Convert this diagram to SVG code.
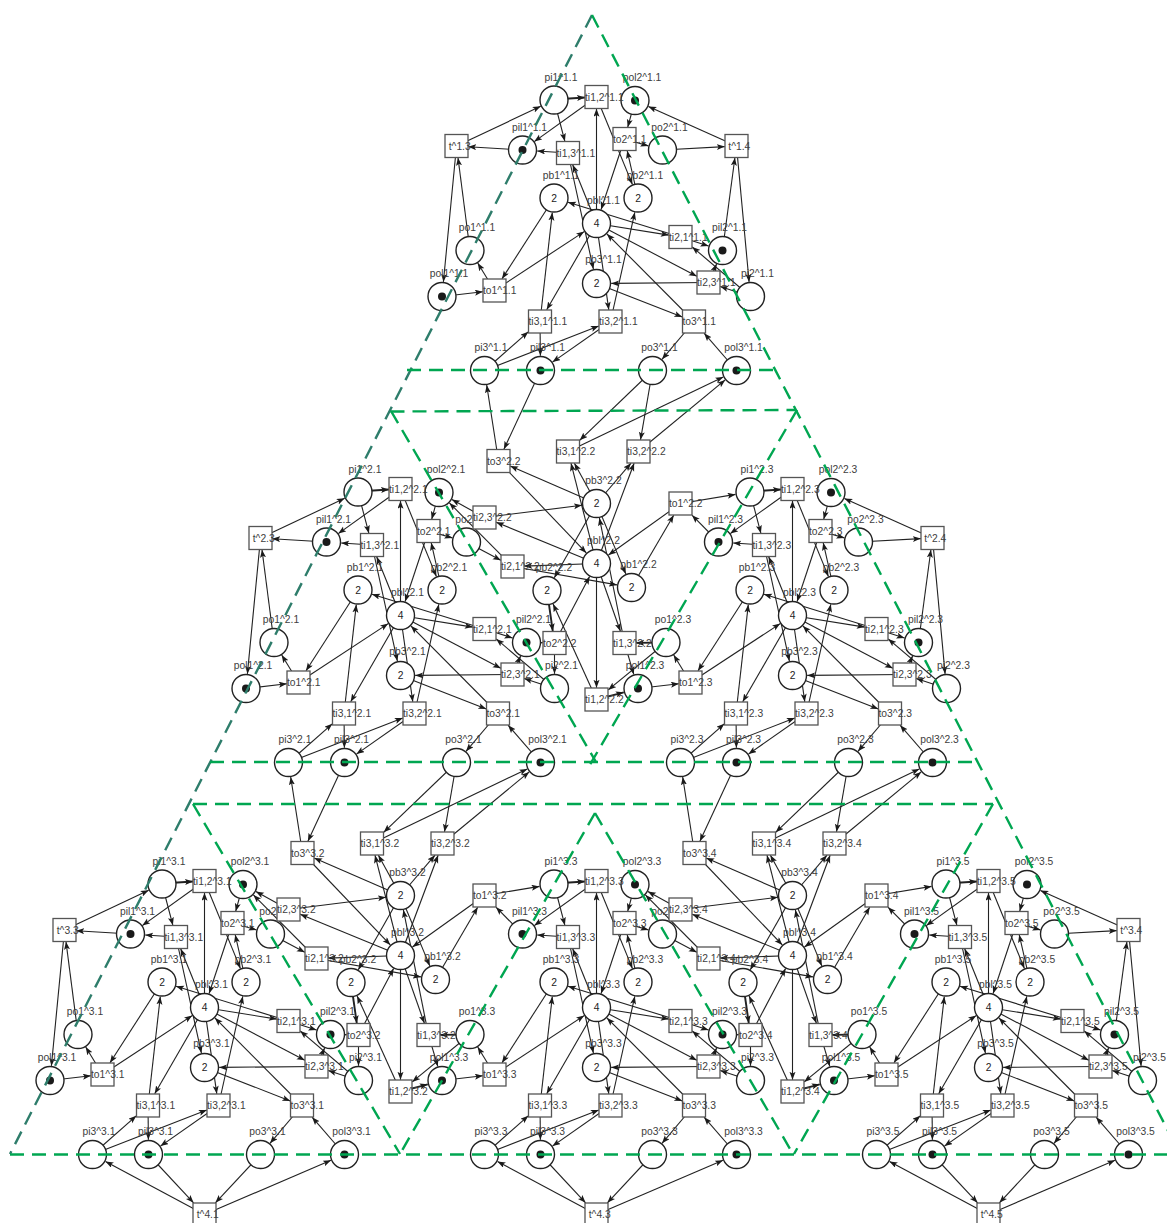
<svg xmlns="http://www.w3.org/2000/svg" width="1167" height="1223" viewBox="0 0 1167 1223">
<style>
text{font-family:"Liberation Sans",Arial,sans-serif;font-size:10.3px;fill:#404040}
.m{text-anchor:middle}
.n{text-anchor:middle;fill:#222}
.p{fill:#fff;stroke:#222;stroke-width:1.4}
.s{fill:#fff;stroke:#555;stroke-width:1.3}
.t{fill:#1a1a1a;stroke:none}
.c{fill:none;stroke:#222;stroke-width:1.1;marker-end:url(#a)}
.k{stroke-width:1.9}
.d{fill:none;stroke:#00a651;stroke-width:2.4;stroke-dasharray:14 8}
.g{stroke:#2e7d6b}
</style>
<defs>
<marker id="a" markerUnits="userSpaceOnUse" markerWidth="9" markerHeight="7" refX="8" refY="3" orient="auto"><path d="M0 0L8 3L0 6L1.8 3z" fill="#1a1a1a"/></marker>
<g id="core" class="c">
<path class="k" d="M554 99.5L585 97.5"/><path d="M596.5 97L534.3 141.6"/><path d="M554 100L564.9 141.3"/><path d="M568 153L537.2 151"/>
<path d="M494.5 290.5L477.7 263"/><path d="M442 296.5L482.8 291.8"/><path d="M554 198L502 278.8"/><path d="M494.5 290.5L584.2 231.6"/>
<path d="M540 321.5L552.3 212.6"/><path d="M596.5 223.5L546.7 309.8"/><path d="M484.5 370.5L528.3 331.8"/><path d="M540 321.5L540.4 355.8"/>
<path d="M484.5 370.5L598.8 326"/><path d="M610.5 321.5L552.5 362.1"/><path d="M596.5 223.5L608.8 309.8"/><path d="M610.5 321.5L634.8 212.3"/>
<path d="M568 153L593.4 269.1"/><path d="M596.5 223.5L572.7 164.7"/><path d="M596.5 223.5L596.5 108.7"/><path d="M596.5 97L632.4 184.4"/>
<path d="M638 198L627.2 150.7"/><path d="M624.5 139L601.1 209.5"/><path d="M635 100.5L627.7 127.3"/><path d="M624.5 139L648.4 145.9"/>
<path d="M680.5 237L708.5 246"/><path d="M750.5 296.5L692.2 246.9"/><path d="M708.5 282.5L716.6 264"/><path d="M750.5 296.5L720.2 286.4"/>
<path d="M708.5 282.5L611.2 283.4"/><path d="M596.5 223.5L668.8 235.1"/><path d="M680.5 237L568 202.3"/><path d="M596.5 223.5L696.8 276.3"/>
<path d="M596.5 283.5L682.3 316.9"/><path d="M694 321.5L606.9 233.9"/><path d="M694 321.5L662 359.3"/><path d="M736.5 370.5L704.1 333.2"/>
</g>
<g id="tl" class="c"><path d="M522.5 150L468.2 146.7"/><path d="M456.5 146L540.7 106.3"/><path d="M456.5 146L443.4 281.9"/><path d="M470 250.5L458 157.7"/></g>
<g id="tr" class="c"><path d="M662.5 150L724.8 146.6"/><path d="M736.5 146L648.4 106.5"/><path d="M722.5 250.5L734.9 157.7"/><path d="M736.5 146L749.1 281.9"/></g>
<g id="tb" class="c"><path d="M540.5 370.5L585.6 418.8"/><path d="M652.5 370.5L607.4 418.8"/><path d="M596.5 430.5L497.5 377.4"/><path d="M596.5 430.5L723 376.3"/></g>
<g id="br" class="c">
<path d="M498.5 461L486.7 385"/><path d="M540.5 370.5L503.9 449.3"/><path d="M652.5 370.5L579.7 440.3"/><path d="M652.5 370.5L640.5 439.8"/>
<path d="M568 451.5L723.3 376.9"/><path d="M638.5 451.5L725.2 379.9"/><path d="M596.5 503.5L510.2 466.1"/><path d="M596.5 503.5L574.4 463.2"/>
<path d="M596.5 563.5L571 463.2"/><path d="M596.5 563.5L634.1 463.2"/><path d="M596.5 503.5L631 463.2"/><path d="M498.5 461L586.3 552.9"/>
<path d="M484.5 517.5L581.9 505.3"/><path d="M596.5 563.5L496.2 522.3"/><path d="M596.5 503.5L554.3 577.7"/><path d="M596.5 503.5L625.8 573.9"/>
<path d="M624.5 643L599.4 517.9"/><path d="M596.5 563.5L620.4 631.3"/><path d="M631.5 587.5L673.7 515.2"/><path d="M680.5 503.5L608.5 555"/>
<path d="M680.5 503.5L735.5 494.4"/><path d="M718.5 542L692 515.2"/><path d="M466.5 542L500.8 560.3"/><path d="M512.5 566.5L449.4 502.9"/>
<path d="M484.5 517.5L451.9 499.6"/><path d="M596.5 563.5L524.2 566.1"/><path d="M512.5 566.5L617 584.9"/><path d="M596.5 563.5L596.5 687.8"/>
<path d="M554.5 643L589.6 576.5"/><path class="k" d="M547 590.5L552.8 631.3"/><path d="M596.5 699.5L553.1 603.9"/><path d="M526.5 642.5L542.8 642.8"/>
<path d="M554.5 643L554.5 673.8"/><path class="k" d="M666 642.5L636.2 642.9"/><path d="M666 642.5L608.2 689.9"/><path d="M624.5 643L633.8 674.4"/>
<path class="k" d="M596.5 699.5L623.8 692.3"/>
</g>
</defs>
<g id="connectors">
<use href="#core"/><use href="#core" transform="translate(-196 392)"/><use href="#core" transform="translate(196 392)"/><use href="#core" transform="translate(-392 784)"/><use href="#core" transform="translate(0 784)"/><use href="#core" transform="translate(392 784)"/>
<use href="#tl"/><use href="#tl" transform="translate(-196 392)"/><use href="#tl" transform="translate(-392 784)"/>
<use href="#tr"/><use href="#tr" transform="translate(196 392)"/><use href="#tr" transform="translate(392 784)"/>
<use href="#tb" transform="translate(-392 784)"/><use href="#tb" transform="translate(0 784)"/><use href="#tb" transform="translate(392 784)"/>
<use href="#br"/><use href="#br" transform="translate(-196 392)"/><use href="#br" transform="translate(196 392)"/>
</g>
<g id="nodes">
<g id="module-1.1">
<g id="pi1_1.1"><circle class="p" cx="554" cy="100" r="14"/><text class="m" x="561" y="80.5">pi1^1.1</text></g>
<g id="pol2_1.1"><circle class="p" cx="635" cy="100.5" r="14"/><circle class="t" cx="635" cy="100.5" r="4"/><text class="m" x="642" y="81">pol2^1.1</text></g>
<g id="pil1_1.1"><circle class="p" cx="522.5" cy="150" r="14"/><circle class="t" cx="522.5" cy="150" r="4"/><text class="m" x="529.5" y="130.5">pil1^1.1</text></g>
<g id="po2_1.1"><circle class="p" cx="662.5" cy="150" r="14"/><text class="m" x="669.5" y="130.5">po2^1.1</text></g>
<g id="pb1_1.1"><circle class="p" cx="554" cy="198" r="14"/><text class="n" x="554" y="201.7">2</text><text class="m" x="561" y="178.5">pb1^1.1</text></g>
<g id="pb2_1.1"><circle class="p" cx="638" cy="198" r="14"/><text class="n" x="638" y="201.7">2</text><text class="m" x="645" y="178.5">pb2^1.1</text></g>
<g id="pbl_1.1"><circle class="p" cx="596.5" cy="223.5" r="14"/><text class="n" x="596.5" y="227.2">4</text><text class="m" x="603.5" y="204">pbl^1.1</text></g>
<g id="pil2_1.1"><circle class="p" cx="722.5" cy="250.5" r="14"/><circle class="t" cx="722.5" cy="250.5" r="4"/><text class="m" x="729.5" y="231">pil2^1.1</text></g>
<g id="pi2_1.1"><circle class="p" cx="750.5" cy="296.5" r="14"/><text class="m" x="757.5" y="277">pi2^1.1</text></g>
<g id="po1_1.1"><circle class="p" cx="470" cy="250.5" r="14"/><text class="m" x="477" y="231">po1^1.1</text></g>
<g id="pol1_1.1"><circle class="p" cx="442" cy="296.5" r="14"/><circle class="t" cx="442" cy="296.5" r="4"/><text class="m" x="449" y="277">pol1^1.1</text></g>
<g id="pb3_1.1"><circle class="p" cx="596.5" cy="283.5" r="14"/><text class="n" x="596.5" y="287.2">2</text><text class="m" x="603.5" y="263">pb3^1.1</text></g>
<g id="pi3_1.1"><circle class="p" cx="484.5" cy="370.5" r="14"/><text class="m" x="491" y="351">pi3^1.1</text></g>
<g id="pil3_1.1"><circle class="p" cx="540.5" cy="370.5" r="14"/><circle class="t" cx="540.5" cy="370.5" r="4"/><text class="m" x="547.5" y="351">pil3^1.1</text></g>
<g id="po3_1.1"><circle class="p" cx="652.5" cy="370.5" r="14"/><text class="m" x="659.5" y="351">po3^1.1</text></g>
<g id="pol3_1.1"><circle class="p" cx="736.5" cy="370.5" r="14"/><circle class="t" cx="736.5" cy="370.5" r="4"/><text class="m" x="743.5" y="351">pol3^1.1</text></g>
<g id="ti12_1.1"><rect class="s" x="585" y="85.5" width="23" height="23"/><text x="585" y="100.7">ti1,2^1.1</text></g>
<g id="ti13_1.1"><rect class="s" x="556.5" y="141.5" width="23" height="23"/><text x="556.5" y="156.7">ti1,3^1.1</text></g>
<g id="to2_1.1"><rect class="s" x="613" y="127.5" width="23" height="23"/><text x="613" y="142.7">to2^1.1</text></g>
<g id="to1_1.1"><rect class="s" x="483" y="279" width="23" height="23"/><text x="483" y="294.2">to1^1.1</text></g>
<g id="ti21_1.1"><rect class="s" x="669" y="225.5" width="23" height="23"/><text x="669" y="240.7">ti2,1^1.1</text></g>
<g id="ti23_1.1"><rect class="s" x="697" y="271" width="23" height="23"/><text x="697" y="286.2">ti2,3^1.1</text></g>
<g id="ti31_1.1"><rect class="s" x="528.5" y="310" width="23" height="23"/><text x="528.5" y="325.2">ti3,1^1.1</text></g>
<g id="ti32_1.1"><rect class="s" x="599" y="310" width="23" height="23"/><text x="599" y="325.2">ti3,2^1.1</text></g>
<g id="to3_1.1"><rect class="s" x="682.5" y="310" width="23" height="23"/><text x="682.5" y="325.2">to3^1.1</text></g>
</g>
<g id="module-2.1" transform="translate(-196 392)">
<g id="pi1_2.1"><circle class="p" cx="554" cy="100" r="14"/><text class="m" x="561" y="80.5">pi1^2.1</text></g>
<g id="pol2_2.1"><circle class="p" cx="635" cy="100.5" r="14"/><circle class="t" cx="635" cy="100.5" r="4"/><text class="m" x="642" y="81">pol2^2.1</text></g>
<g id="pil1_2.1"><circle class="p" cx="522.5" cy="150" r="14"/><circle class="t" cx="522.5" cy="150" r="4"/><text class="m" x="529.5" y="130.5">pil1^2.1</text></g>
<g id="po2_2.1"><circle class="p" cx="662.5" cy="150" r="14"/><text class="m" x="669.5" y="130.5">po2^2.1</text></g>
<g id="pb1_2.1"><circle class="p" cx="554" cy="198" r="14"/><text class="n" x="554" y="201.7">2</text><text class="m" x="561" y="178.5">pb1^2.1</text></g>
<g id="pb2_2.1"><circle class="p" cx="638" cy="198" r="14"/><text class="n" x="638" y="201.7">2</text><text class="m" x="645" y="178.5">pb2^2.1</text></g>
<g id="pbl_2.1"><circle class="p" cx="596.5" cy="223.5" r="14"/><text class="n" x="596.5" y="227.2">4</text><text class="m" x="603.5" y="204">pbl^2.1</text></g>
<g id="pil2_2.1"><circle class="p" cx="722.5" cy="250.5" r="14"/><circle class="t" cx="722.5" cy="250.5" r="4"/><text class="m" x="729.5" y="231">pil2^2.1</text></g>
<g id="pi2_2.1"><circle class="p" cx="750.5" cy="296.5" r="14"/><text class="m" x="757.5" y="277">pi2^2.1</text></g>
<g id="po1_2.1"><circle class="p" cx="470" cy="250.5" r="14"/><text class="m" x="477" y="231">po1^2.1</text></g>
<g id="pol1_2.1"><circle class="p" cx="442" cy="296.5" r="14"/><circle class="t" cx="442" cy="296.5" r="4"/><text class="m" x="449" y="277">pol1^2.1</text></g>
<g id="pb3_2.1"><circle class="p" cx="596.5" cy="283.5" r="14"/><text class="n" x="596.5" y="287.2">2</text><text class="m" x="603.5" y="263">pb3^2.1</text></g>
<g id="pi3_2.1"><circle class="p" cx="484.5" cy="370.5" r="14"/><text class="m" x="491" y="351">pi3^2.1</text></g>
<g id="pil3_2.1"><circle class="p" cx="540.5" cy="370.5" r="14"/><circle class="t" cx="540.5" cy="370.5" r="4"/><text class="m" x="547.5" y="351">pil3^2.1</text></g>
<g id="po3_2.1"><circle class="p" cx="652.5" cy="370.5" r="14"/><text class="m" x="659.5" y="351">po3^2.1</text></g>
<g id="pol3_2.1"><circle class="p" cx="736.5" cy="370.5" r="14"/><circle class="t" cx="736.5" cy="370.5" r="4"/><text class="m" x="743.5" y="351">pol3^2.1</text></g>
<g id="ti12_2.1"><rect class="s" x="585" y="85.5" width="23" height="23"/><text x="585" y="100.7">ti1,2^2.1</text></g>
<g id="ti13_2.1"><rect class="s" x="556.5" y="141.5" width="23" height="23"/><text x="556.5" y="156.7">ti1,3^2.1</text></g>
<g id="to2_2.1"><rect class="s" x="613" y="127.5" width="23" height="23"/><text x="613" y="142.7">to2^2.1</text></g>
<g id="to1_2.1"><rect class="s" x="483" y="279" width="23" height="23"/><text x="483" y="294.2">to1^2.1</text></g>
<g id="ti21_2.1"><rect class="s" x="669" y="225.5" width="23" height="23"/><text x="669" y="240.7">ti2,1^2.1</text></g>
<g id="ti23_2.1"><rect class="s" x="697" y="271" width="23" height="23"/><text x="697" y="286.2">ti2,3^2.1</text></g>
<g id="ti31_2.1"><rect class="s" x="528.5" y="310" width="23" height="23"/><text x="528.5" y="325.2">ti3,1^2.1</text></g>
<g id="ti32_2.1"><rect class="s" x="599" y="310" width="23" height="23"/><text x="599" y="325.2">ti3,2^2.1</text></g>
<g id="to3_2.1"><rect class="s" x="682.5" y="310" width="23" height="23"/><text x="682.5" y="325.2">to3^2.1</text></g>
</g>
<g id="module-2.3" transform="translate(196 392)">
<g id="pi1_2.3"><circle class="p" cx="554" cy="100" r="14"/><text class="m" x="561" y="80.5">pi1^2.3</text></g>
<g id="pol2_2.3"><circle class="p" cx="635" cy="100.5" r="14"/><circle class="t" cx="635" cy="100.5" r="4"/><text class="m" x="642" y="81">pol2^2.3</text></g>
<g id="pil1_2.3"><circle class="p" cx="522.5" cy="150" r="14"/><circle class="t" cx="522.5" cy="150" r="4"/><text class="m" x="529.5" y="130.5">pil1^2.3</text></g>
<g id="po2_2.3"><circle class="p" cx="662.5" cy="150" r="14"/><text class="m" x="669.5" y="130.5">po2^2.3</text></g>
<g id="pb1_2.3"><circle class="p" cx="554" cy="198" r="14"/><text class="n" x="554" y="201.7">2</text><text class="m" x="561" y="178.5">pb1^2.3</text></g>
<g id="pb2_2.3"><circle class="p" cx="638" cy="198" r="14"/><text class="n" x="638" y="201.7">2</text><text class="m" x="645" y="178.5">pb2^2.3</text></g>
<g id="pbl_2.3"><circle class="p" cx="596.5" cy="223.5" r="14"/><text class="n" x="596.5" y="227.2">4</text><text class="m" x="603.5" y="204">pbl^2.3</text></g>
<g id="pil2_2.3"><circle class="p" cx="722.5" cy="250.5" r="14"/><circle class="t" cx="722.5" cy="250.5" r="4"/><text class="m" x="729.5" y="231">pil2^2.3</text></g>
<g id="pi2_2.3"><circle class="p" cx="750.5" cy="296.5" r="14"/><text class="m" x="757.5" y="277">pi2^2.3</text></g>
<g id="po1_2.3"><circle class="p" cx="470" cy="250.5" r="14"/><text class="m" x="477" y="231">po1^2.3</text></g>
<g id="pol1_2.3"><circle class="p" cx="442" cy="296.5" r="14"/><circle class="t" cx="442" cy="296.5" r="4"/><text class="m" x="449" y="277">pol1^2.3</text></g>
<g id="pb3_2.3"><circle class="p" cx="596.5" cy="283.5" r="14"/><text class="n" x="596.5" y="287.2">2</text><text class="m" x="603.5" y="263">pb3^2.3</text></g>
<g id="pi3_2.3"><circle class="p" cx="484.5" cy="370.5" r="14"/><text class="m" x="491" y="351">pi3^2.3</text></g>
<g id="pil3_2.3"><circle class="p" cx="540.5" cy="370.5" r="14"/><circle class="t" cx="540.5" cy="370.5" r="4"/><text class="m" x="547.5" y="351">pil3^2.3</text></g>
<g id="po3_2.3"><circle class="p" cx="652.5" cy="370.5" r="14"/><text class="m" x="659.5" y="351">po3^2.3</text></g>
<g id="pol3_2.3"><circle class="p" cx="736.5" cy="370.5" r="14"/><circle class="t" cx="736.5" cy="370.5" r="4"/><text class="m" x="743.5" y="351">pol3^2.3</text></g>
<g id="ti12_2.3"><rect class="s" x="585" y="85.5" width="23" height="23"/><text x="585" y="100.7">ti1,2^2.3</text></g>
<g id="ti13_2.3"><rect class="s" x="556.5" y="141.5" width="23" height="23"/><text x="556.5" y="156.7">ti1,3^2.3</text></g>
<g id="to2_2.3"><rect class="s" x="613" y="127.5" width="23" height="23"/><text x="613" y="142.7">to2^2.3</text></g>
<g id="to1_2.3"><rect class="s" x="483" y="279" width="23" height="23"/><text x="483" y="294.2">to1^2.3</text></g>
<g id="ti21_2.3"><rect class="s" x="669" y="225.5" width="23" height="23"/><text x="669" y="240.7">ti2,1^2.3</text></g>
<g id="ti23_2.3"><rect class="s" x="697" y="271" width="23" height="23"/><text x="697" y="286.2">ti2,3^2.3</text></g>
<g id="ti31_2.3"><rect class="s" x="528.5" y="310" width="23" height="23"/><text x="528.5" y="325.2">ti3,1^2.3</text></g>
<g id="ti32_2.3"><rect class="s" x="599" y="310" width="23" height="23"/><text x="599" y="325.2">ti3,2^2.3</text></g>
<g id="to3_2.3"><rect class="s" x="682.5" y="310" width="23" height="23"/><text x="682.5" y="325.2">to3^2.3</text></g>
</g>
<g id="module-3.1" transform="translate(-392 784)">
<g id="pi1_3.1"><circle class="p" cx="554" cy="100" r="14"/><text class="m" x="561" y="80.5">pi1^3.1</text></g>
<g id="pol2_3.1"><circle class="p" cx="635" cy="100.5" r="14"/><circle class="t" cx="635" cy="100.5" r="4"/><text class="m" x="642" y="81">pol2^3.1</text></g>
<g id="pil1_3.1"><circle class="p" cx="522.5" cy="150" r="14"/><circle class="t" cx="522.5" cy="150" r="4"/><text class="m" x="529.5" y="130.5">pil1^3.1</text></g>
<g id="po2_3.1"><circle class="p" cx="662.5" cy="150" r="14"/><text class="m" x="669.5" y="130.5">po2^3.1</text></g>
<g id="pb1_3.1"><circle class="p" cx="554" cy="198" r="14"/><text class="n" x="554" y="201.7">2</text><text class="m" x="561" y="178.5">pb1^3.1</text></g>
<g id="pb2_3.1"><circle class="p" cx="638" cy="198" r="14"/><text class="n" x="638" y="201.7">2</text><text class="m" x="645" y="178.5">pb2^3.1</text></g>
<g id="pbl_3.1"><circle class="p" cx="596.5" cy="223.5" r="14"/><text class="n" x="596.5" y="227.2">4</text><text class="m" x="603.5" y="204">pbl^3.1</text></g>
<g id="pil2_3.1"><circle class="p" cx="722.5" cy="250.5" r="14"/><circle class="t" cx="722.5" cy="250.5" r="4"/><text class="m" x="729.5" y="231">pil2^3.1</text></g>
<g id="pi2_3.1"><circle class="p" cx="750.5" cy="296.5" r="14"/><text class="m" x="757.5" y="277">pi2^3.1</text></g>
<g id="po1_3.1"><circle class="p" cx="470" cy="250.5" r="14"/><text class="m" x="477" y="231">po1^3.1</text></g>
<g id="pol1_3.1"><circle class="p" cx="442" cy="296.5" r="14"/><circle class="t" cx="442" cy="296.5" r="4"/><text class="m" x="449" y="277">pol1^3.1</text></g>
<g id="pb3_3.1"><circle class="p" cx="596.5" cy="283.5" r="14"/><text class="n" x="596.5" y="287.2">2</text><text class="m" x="603.5" y="263">pb3^3.1</text></g>
<g id="pi3_3.1"><circle class="p" cx="484.5" cy="370.5" r="14"/><text class="m" x="491" y="351">pi3^3.1</text></g>
<g id="pil3_3.1"><circle class="p" cx="540.5" cy="370.5" r="14"/><circle class="t" cx="540.5" cy="370.5" r="4"/><text class="m" x="547.5" y="351">pil3^3.1</text></g>
<g id="po3_3.1"><circle class="p" cx="652.5" cy="370.5" r="14"/><text class="m" x="659.5" y="351">po3^3.1</text></g>
<g id="pol3_3.1"><circle class="p" cx="736.5" cy="370.5" r="14"/><circle class="t" cx="736.5" cy="370.5" r="4"/><text class="m" x="743.5" y="351">pol3^3.1</text></g>
<g id="ti12_3.1"><rect class="s" x="585" y="85.5" width="23" height="23"/><text x="585" y="100.7">ti1,2^3.1</text></g>
<g id="ti13_3.1"><rect class="s" x="556.5" y="141.5" width="23" height="23"/><text x="556.5" y="156.7">ti1,3^3.1</text></g>
<g id="to2_3.1"><rect class="s" x="613" y="127.5" width="23" height="23"/><text x="613" y="142.7">to2^3.1</text></g>
<g id="to1_3.1"><rect class="s" x="483" y="279" width="23" height="23"/><text x="483" y="294.2">to1^3.1</text></g>
<g id="ti21_3.1"><rect class="s" x="669" y="225.5" width="23" height="23"/><text x="669" y="240.7">ti2,1^3.1</text></g>
<g id="ti23_3.1"><rect class="s" x="697" y="271" width="23" height="23"/><text x="697" y="286.2">ti2,3^3.1</text></g>
<g id="ti31_3.1"><rect class="s" x="528.5" y="310" width="23" height="23"/><text x="528.5" y="325.2">ti3,1^3.1</text></g>
<g id="ti32_3.1"><rect class="s" x="599" y="310" width="23" height="23"/><text x="599" y="325.2">ti3,2^3.1</text></g>
<g id="to3_3.1"><rect class="s" x="682.5" y="310" width="23" height="23"/><text x="682.5" y="325.2">to3^3.1</text></g>
</g>
<g id="module-3.3" transform="translate(0 784)">
<g id="pi1_3.3"><circle class="p" cx="554" cy="100" r="14"/><text class="m" x="561" y="80.5">pi1^3.3</text></g>
<g id="pol2_3.3"><circle class="p" cx="635" cy="100.5" r="14"/><circle class="t" cx="635" cy="100.5" r="4"/><text class="m" x="642" y="81">pol2^3.3</text></g>
<g id="pil1_3.3"><circle class="p" cx="522.5" cy="150" r="14"/><circle class="t" cx="522.5" cy="150" r="4"/><text class="m" x="529.5" y="130.5">pil1^3.3</text></g>
<g id="po2_3.3"><circle class="p" cx="662.5" cy="150" r="14"/><text class="m" x="669.5" y="130.5">po2^3.3</text></g>
<g id="pb1_3.3"><circle class="p" cx="554" cy="198" r="14"/><text class="n" x="554" y="201.7">2</text><text class="m" x="561" y="178.5">pb1^3.3</text></g>
<g id="pb2_3.3"><circle class="p" cx="638" cy="198" r="14"/><text class="n" x="638" y="201.7">2</text><text class="m" x="645" y="178.5">pb2^3.3</text></g>
<g id="pbl_3.3"><circle class="p" cx="596.5" cy="223.5" r="14"/><text class="n" x="596.5" y="227.2">4</text><text class="m" x="603.5" y="204">pbl^3.3</text></g>
<g id="pil2_3.3"><circle class="p" cx="722.5" cy="250.5" r="14"/><circle class="t" cx="722.5" cy="250.5" r="4"/><text class="m" x="729.5" y="231">pil2^3.3</text></g>
<g id="pi2_3.3"><circle class="p" cx="750.5" cy="296.5" r="14"/><text class="m" x="757.5" y="277">pi2^3.3</text></g>
<g id="po1_3.3"><circle class="p" cx="470" cy="250.5" r="14"/><text class="m" x="477" y="231">po1^3.3</text></g>
<g id="pol1_3.3"><circle class="p" cx="442" cy="296.5" r="14"/><circle class="t" cx="442" cy="296.5" r="4"/><text class="m" x="449" y="277">pol1^3.3</text></g>
<g id="pb3_3.3"><circle class="p" cx="596.5" cy="283.5" r="14"/><text class="n" x="596.5" y="287.2">2</text><text class="m" x="603.5" y="263">pb3^3.3</text></g>
<g id="pi3_3.3"><circle class="p" cx="484.5" cy="370.5" r="14"/><text class="m" x="491" y="351">pi3^3.3</text></g>
<g id="pil3_3.3"><circle class="p" cx="540.5" cy="370.5" r="14"/><circle class="t" cx="540.5" cy="370.5" r="4"/><text class="m" x="547.5" y="351">pil3^3.3</text></g>
<g id="po3_3.3"><circle class="p" cx="652.5" cy="370.5" r="14"/><text class="m" x="659.5" y="351">po3^3.3</text></g>
<g id="pol3_3.3"><circle class="p" cx="736.5" cy="370.5" r="14"/><circle class="t" cx="736.5" cy="370.5" r="4"/><text class="m" x="743.5" y="351">pol3^3.3</text></g>
<g id="ti12_3.3"><rect class="s" x="585" y="85.5" width="23" height="23"/><text x="585" y="100.7">ti1,2^3.3</text></g>
<g id="ti13_3.3"><rect class="s" x="556.5" y="141.5" width="23" height="23"/><text x="556.5" y="156.7">ti1,3^3.3</text></g>
<g id="to2_3.3"><rect class="s" x="613" y="127.5" width="23" height="23"/><text x="613" y="142.7">to2^3.3</text></g>
<g id="to1_3.3"><rect class="s" x="483" y="279" width="23" height="23"/><text x="483" y="294.2">to1^3.3</text></g>
<g id="ti21_3.3"><rect class="s" x="669" y="225.5" width="23" height="23"/><text x="669" y="240.7">ti2,1^3.3</text></g>
<g id="ti23_3.3"><rect class="s" x="697" y="271" width="23" height="23"/><text x="697" y="286.2">ti2,3^3.3</text></g>
<g id="ti31_3.3"><rect class="s" x="528.5" y="310" width="23" height="23"/><text x="528.5" y="325.2">ti3,1^3.3</text></g>
<g id="ti32_3.3"><rect class="s" x="599" y="310" width="23" height="23"/><text x="599" y="325.2">ti3,2^3.3</text></g>
<g id="to3_3.3"><rect class="s" x="682.5" y="310" width="23" height="23"/><text x="682.5" y="325.2">to3^3.3</text></g>
</g>
<g id="module-3.5" transform="translate(392 784)">
<g id="pi1_3.5"><circle class="p" cx="554" cy="100" r="14"/><text class="m" x="561" y="80.5">pi1^3.5</text></g>
<g id="pol2_3.5"><circle class="p" cx="635" cy="100.5" r="14"/><circle class="t" cx="635" cy="100.5" r="4"/><text class="m" x="642" y="81">pol2^3.5</text></g>
<g id="pil1_3.5"><circle class="p" cx="522.5" cy="150" r="14"/><circle class="t" cx="522.5" cy="150" r="4"/><text class="m" x="529.5" y="130.5">pil1^3.5</text></g>
<g id="po2_3.5"><circle class="p" cx="662.5" cy="150" r="14"/><text class="m" x="669.5" y="130.5">po2^3.5</text></g>
<g id="pb1_3.5"><circle class="p" cx="554" cy="198" r="14"/><text class="n" x="554" y="201.7">2</text><text class="m" x="561" y="178.5">pb1^3.5</text></g>
<g id="pb2_3.5"><circle class="p" cx="638" cy="198" r="14"/><text class="n" x="638" y="201.7">2</text><text class="m" x="645" y="178.5">pb2^3.5</text></g>
<g id="pbl_3.5"><circle class="p" cx="596.5" cy="223.5" r="14"/><text class="n" x="596.5" y="227.2">4</text><text class="m" x="603.5" y="204">pbl^3.5</text></g>
<g id="pil2_3.5"><circle class="p" cx="722.5" cy="250.5" r="14"/><circle class="t" cx="722.5" cy="250.5" r="4"/><text class="m" x="729.5" y="231">pil2^3.5</text></g>
<g id="pi2_3.5"><circle class="p" cx="750.5" cy="296.5" r="14"/><text class="m" x="757.5" y="277">pi2^3.5</text></g>
<g id="po1_3.5"><circle class="p" cx="470" cy="250.5" r="14"/><text class="m" x="477" y="231">po1^3.5</text></g>
<g id="pol1_3.5"><circle class="p" cx="442" cy="296.5" r="14"/><circle class="t" cx="442" cy="296.5" r="4"/><text class="m" x="449" y="277">pol1^3.5</text></g>
<g id="pb3_3.5"><circle class="p" cx="596.5" cy="283.5" r="14"/><text class="n" x="596.5" y="287.2">2</text><text class="m" x="603.5" y="263">pb3^3.5</text></g>
<g id="pi3_3.5"><circle class="p" cx="484.5" cy="370.5" r="14"/><text class="m" x="491" y="351">pi3^3.5</text></g>
<g id="pil3_3.5"><circle class="p" cx="540.5" cy="370.5" r="14"/><circle class="t" cx="540.5" cy="370.5" r="4"/><text class="m" x="547.5" y="351">pil3^3.5</text></g>
<g id="po3_3.5"><circle class="p" cx="652.5" cy="370.5" r="14"/><text class="m" x="659.5" y="351">po3^3.5</text></g>
<g id="pol3_3.5"><circle class="p" cx="736.5" cy="370.5" r="14"/><circle class="t" cx="736.5" cy="370.5" r="4"/><text class="m" x="743.5" y="351">pol3^3.5</text></g>
<g id="ti12_3.5"><rect class="s" x="585" y="85.5" width="23" height="23"/><text x="585" y="100.7">ti1,2^3.5</text></g>
<g id="ti13_3.5"><rect class="s" x="556.5" y="141.5" width="23" height="23"/><text x="556.5" y="156.7">ti1,3^3.5</text></g>
<g id="to2_3.5"><rect class="s" x="613" y="127.5" width="23" height="23"/><text x="613" y="142.7">to2^3.5</text></g>
<g id="to1_3.5"><rect class="s" x="483" y="279" width="23" height="23"/><text x="483" y="294.2">to1^3.5</text></g>
<g id="ti21_3.5"><rect class="s" x="669" y="225.5" width="23" height="23"/><text x="669" y="240.7">ti2,1^3.5</text></g>
<g id="ti23_3.5"><rect class="s" x="697" y="271" width="23" height="23"/><text x="697" y="286.2">ti2,3^3.5</text></g>
<g id="ti31_3.5"><rect class="s" x="528.5" y="310" width="23" height="23"/><text x="528.5" y="325.2">ti3,1^3.5</text></g>
<g id="ti32_3.5"><rect class="s" x="599" y="310" width="23" height="23"/><text x="599" y="325.2">ti3,2^3.5</text></g>
<g id="to3_3.5"><rect class="s" x="682.5" y="310" width="23" height="23"/><text x="682.5" y="325.2">to3^3.5</text></g>
</g>
<g id="bridge-2.2">
<g id="to3_2.2"><rect class="s" x="487" y="449.5" width="23" height="23"/><text x="487" y="464.7">to3^2.2</text></g>
<g id="ti31_2.2"><rect class="s" x="556.5" y="440" width="23" height="23"/><text x="556.5" y="455.2">ti3,1^2.2</text></g>
<g id="ti32_2.2"><rect class="s" x="627" y="440" width="23" height="23"/><text x="627" y="455.2">ti3,2^2.2</text></g>
<g id="pb3_2.2"><circle class="p" cx="596.5" cy="503.5" r="14"/><text class="n" x="596.5" y="507.2">2</text><text class="m" x="603.5" y="484">pb3^2.2</text></g>
<g id="pbl_2.2"><circle class="p" cx="596.5" cy="563.5" r="14"/><text class="n" x="596.5" y="567.2">4</text><text class="m" x="603.5" y="543.5">pbl^2.2</text></g>
<g id="to1_2.2"><rect class="s" x="669" y="492" width="23" height="23"/><text x="669" y="507.2">to1^2.2</text></g>
<g id="ti23_2.2"><rect class="s" x="473" y="506" width="23" height="23"/><text x="473" y="521.2">ti2,3^2.2</text></g>
<g id="ti21_2.2"><rect class="s" x="501" y="555" width="23" height="23"/><text x="501" y="570.2">ti2,1^2.2</text></g>
<g id="pb1_2.2"><circle class="p" cx="631.5" cy="587.5" r="14"/><text class="n" x="631.5" y="591.2">2</text><text class="m" x="638.5" y="568">pb1^2.2</text></g>
<g id="pb2_2.2"><circle class="p" cx="547" cy="590.5" r="14"/><text class="n" x="547" y="594.2">2</text><text class="m" x="554" y="571">pb2^2.2</text></g>
<g id="ti13_2.2"><rect class="s" x="613" y="631.5" width="23" height="23"/><text x="613" y="646.7">ti1,3^2.2</text></g>
<g id="to2_2.2"><rect class="s" x="543" y="631.5" width="23" height="23"/><text x="543" y="646.7">to2^2.2</text></g>
<g id="ti12_2.2"><rect class="s" x="585" y="688" width="23" height="23"/><text x="585" y="703.2">ti1,2^2.2</text></g>
</g>
<g id="bridge-3.2" transform="translate(-196 392)">
<g id="to3_3.2"><rect class="s" x="487" y="449.5" width="23" height="23"/><text x="487" y="464.7">to3^3.2</text></g>
<g id="ti31_3.2"><rect class="s" x="556.5" y="440" width="23" height="23"/><text x="556.5" y="455.2">ti3,1^3.2</text></g>
<g id="ti32_3.2"><rect class="s" x="627" y="440" width="23" height="23"/><text x="627" y="455.2">ti3,2^3.2</text></g>
<g id="pb3_3.2"><circle class="p" cx="596.5" cy="503.5" r="14"/><text class="n" x="596.5" y="507.2">2</text><text class="m" x="603.5" y="484">pb3^3.2</text></g>
<g id="pbl_3.2"><circle class="p" cx="596.5" cy="563.5" r="14"/><text class="n" x="596.5" y="567.2">4</text><text class="m" x="603.5" y="543.5">pbl^3.2</text></g>
<g id="to1_3.2"><rect class="s" x="669" y="492" width="23" height="23"/><text x="669" y="507.2">to1^3.2</text></g>
<g id="ti23_3.2"><rect class="s" x="473" y="506" width="23" height="23"/><text x="473" y="521.2">ti2,3^3.2</text></g>
<g id="ti21_3.2"><rect class="s" x="501" y="555" width="23" height="23"/><text x="501" y="570.2">ti2,1^3.2</text></g>
<g id="pb1_3.2"><circle class="p" cx="631.5" cy="587.5" r="14"/><text class="n" x="631.5" y="591.2">2</text><text class="m" x="638.5" y="568">pb1^3.2</text></g>
<g id="pb2_3.2"><circle class="p" cx="547" cy="590.5" r="14"/><text class="n" x="547" y="594.2">2</text><text class="m" x="554" y="571">pb2^3.2</text></g>
<g id="ti13_3.2"><rect class="s" x="613" y="631.5" width="23" height="23"/><text x="613" y="646.7">ti1,3^3.2</text></g>
<g id="to2_3.2"><rect class="s" x="543" y="631.5" width="23" height="23"/><text x="543" y="646.7">to2^3.2</text></g>
<g id="ti12_3.2"><rect class="s" x="585" y="688" width="23" height="23"/><text x="585" y="703.2">ti1,2^3.2</text></g>
</g>
<g id="bridge-3.4" transform="translate(196 392)">
<g id="to3_3.4"><rect class="s" x="487" y="449.5" width="23" height="23"/><text x="487" y="464.7">to3^3.4</text></g>
<g id="ti31_3.4"><rect class="s" x="556.5" y="440" width="23" height="23"/><text x="556.5" y="455.2">ti3,1^3.4</text></g>
<g id="ti32_3.4"><rect class="s" x="627" y="440" width="23" height="23"/><text x="627" y="455.2">ti3,2^3.4</text></g>
<g id="pb3_3.4"><circle class="p" cx="596.5" cy="503.5" r="14"/><text class="n" x="596.5" y="507.2">2</text><text class="m" x="603.5" y="484">pb3^3.4</text></g>
<g id="pbl_3.4"><circle class="p" cx="596.5" cy="563.5" r="14"/><text class="n" x="596.5" y="567.2">4</text><text class="m" x="603.5" y="543.5">pbl^3.4</text></g>
<g id="to1_3.4"><rect class="s" x="669" y="492" width="23" height="23"/><text x="669" y="507.2">to1^3.4</text></g>
<g id="ti23_3.4"><rect class="s" x="473" y="506" width="23" height="23"/><text x="473" y="521.2">ti2,3^3.4</text></g>
<g id="ti21_3.4"><rect class="s" x="501" y="555" width="23" height="23"/><text x="501" y="570.2">ti2,1^3.4</text></g>
<g id="pb1_3.4"><circle class="p" cx="631.5" cy="587.5" r="14"/><text class="n" x="631.5" y="591.2">2</text><text class="m" x="638.5" y="568">pb1^3.4</text></g>
<g id="pb2_3.4"><circle class="p" cx="547" cy="590.5" r="14"/><text class="n" x="547" y="594.2">2</text><text class="m" x="554" y="571">pb2^3.4</text></g>
<g id="ti13_3.4"><rect class="s" x="613" y="631.5" width="23" height="23"/><text x="613" y="646.7">ti1,3^3.4</text></g>
<g id="to2_3.4"><rect class="s" x="543" y="631.5" width="23" height="23"/><text x="543" y="646.7">to2^3.4</text></g>
<g id="ti12_3.4"><rect class="s" x="585" y="688" width="23" height="23"/><text x="585" y="703.2">ti1,2^3.4</text></g>
</g>
<g id="t1.3"><rect class="s" x="445" y="134.5" width="23" height="23"/><text x="448.7" y="149.7">t^1.3</text></g>
<g id="t1.4"><rect class="s" x="725" y="134.5" width="23" height="23"/><text x="728.3" y="149.7">t^1.4</text></g>
<g id="t2.3"><rect class="s" x="249" y="526.5" width="23" height="23"/><text x="252.7" y="541.7">t^2.3</text></g>
<g id="t2.4"><rect class="s" x="921" y="526.5" width="23" height="23"/><text x="924.3" y="541.7">t^2.4</text></g>
<g id="t3.3"><rect class="s" x="53" y="918.5" width="23" height="23"/><text x="56.7" y="933.7">t^3.3</text></g>
<g id="t3.4"><rect class="s" x="1117" y="918.5" width="23" height="23"/><text x="1120.3" y="933.7">t^3.4</text></g>
<g id="t4.1"><rect class="s" x="193" y="1203" width="23" height="23"/><text x="196.7" y="1218.2">t^4.1</text></g>
<g id="t4.3"><rect class="s" x="585" y="1203" width="23" height="23"/><text x="588.7" y="1218.2">t^4.3</text></g>
<g id="t4.5"><rect class="s" x="977" y="1203" width="23" height="23"/><text x="980.7" y="1218.2">t^4.5</text></g>
</g>
<g id="triangles" class="d">
<path class="g" d="M592 15L10 1154"/>
<path d="M592 15L1180 1154"/>
<path d="M407 370L775 370"/>
<path d="M390.5 411.5L795 410"/>
<path d="M210 762L977 762"/>
<path d="M193 804L993 804"/>
<path d="M10 1154.5L1167 1154.5"/>
<path d="M391 411L596 762"/>
<path d="M797 410L588 768"/>
<path d="M193 804L400 1154"/>
<path d="M993 804L794 1154"/>
<path d="M595 813L400 1154"/>
<path d="M595 813L793 1154"/>
</g>
</svg>
